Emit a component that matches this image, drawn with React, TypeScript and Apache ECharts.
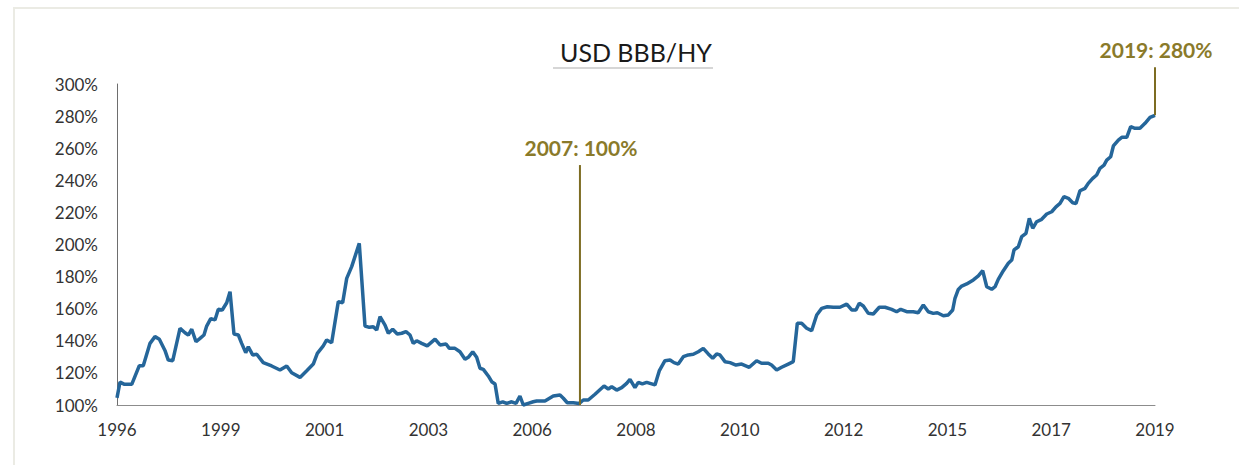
import React, { useEffect, useRef } from "react";
import * as echarts from "echarts";

// x-axis tick labels (one per axis step)
const xTickLabels = ["1996", "1999", "2001", "2003", "2006", "2008", "2010", "2012", "2015", "2017", "2019"];

// time position of each observation, in axis-label steps (0 = 1996 label, 10 = 2019 label)
const t = [
  0, 0.029, 0.067, 0.142, 0.215, 0.253, 0.318, 0.366, 0.408, 0.462,
  0.494, 0.537, 0.607, 0.655, 0.687, 0.72, 0.761, 0.8, 0.838, 0.864,
  0.903, 0.944, 0.976, 1.014, 1.057, 1.089, 1.127, 1.169, 1.201, 1.24,
  1.265, 1.307, 1.346, 1.409, 1.49, 1.57, 1.635, 1.683, 1.763, 1.828,
  1.891, 1.93, 1.987, 2.02, 2.068, 2.132, 2.174, 2.213, 2.261, 2.334,
  2.389, 2.431, 2.469, 2.502, 2.534, 2.582, 2.614, 2.656, 2.7, 2.743,
  2.784, 2.823, 2.854, 2.887, 2.935, 2.989, 3.064, 3.112, 3.17, 3.202,
  3.256, 3.304, 3.353, 3.384, 3.427, 3.465, 3.497, 3.529, 3.577, 3.61,
  3.642, 3.673, 3.716, 3.754, 3.802, 3.844, 3.882, 3.914, 3.962, 4.01,
  4.043, 4.123, 4.203, 4.268, 4.3, 4.338, 4.396, 4.454, 4.492, 4.54,
  4.605, 4.692, 4.733, 4.766, 4.814, 4.862, 4.91, 4.942, 4.99, 5.022,
  5.061, 5.103, 5.183, 5.224, 5.279, 5.328, 5.366, 5.407, 5.456, 5.504,
  5.552, 5.6, 5.648, 5.696, 5.739, 5.777, 5.809, 5.857, 5.906, 5.963,
  6.018,
  6.091, 6.162, 6.21, 6.274, 6.306, 6.355, 6.403, 6.467, 6.515, 6.554,
  6.596, 6.644, 6.692, 6.741, 6.789, 6.843, 6.901, 6.965, 7.03, 7.078,
  7.119, 7.151, 7.19, 7.238, 7.286, 7.344, 7.399, 7.463, 7.511, 7.55,
  7.608, 7.671, 7.719, 7.768, 7.816, 7.864, 7.903, 7.961, 8.009, 8.051,
  8.073, 8.105, 8.138, 8.186, 8.25, 8.298, 8.34, 8.379, 8.427, 8.459,
  8.49, 8.539, 8.587, 8.62, 8.642, 8.683, 8.716, 8.757, 8.789, 8.822,
  8.86, 8.908, 8.957, 9.005, 9.046, 9.085, 9.123, 9.165, 9.207, 9.239,
  9.277, 9.326, 9.357, 9.4, 9.438, 9.47, 9.509, 9.535, 9.573, 9.599,
  9.647, 9.68, 9.728, 9.766, 9.807, 9.855, 9.904, 9.952, 10.0,
];

// USD BBB / HY ratio, percent
const ratio = [
  104.4, 114.3, 113, 112.9, 124.5, 124.5, 138.4, 142.6, 141, 134,
  128, 127.6, 147.8, 145, 143.6, 147.2, 139.4, 141.5, 143.6, 149.2,
  153.8, 153, 159.6, 159.2, 163.7, 170.6, 144.2, 143.6, 138.4, 132.6,
  136.3, 131.2, 131.6, 126.4, 124.3, 121.8, 124.3, 120.1, 117.2, 121.4,
  125.5, 132.2, 136.8, 140.5, 138.8, 164.4, 163.7, 178.9, 186.2, 200.7,
  149.2, 148.4, 148.8, 146.7, 155, 149.8, 144.7, 147.2, 144.2, 144.7,
  145.7, 143.6, 138.4, 140, 138.4, 136.8, 141, 137.4, 138, 135.3,
  135.3, 133.2, 128.5, 129.7, 133.2, 129.7, 122.9, 122.2, 118.1, 114.5,
  113.1, 101, 102, 101, 102, 101, 105.6, 100, 101, 102,
  102.5, 102.5, 105.6, 106.2, 104.2, 101.4, 101.4, 101, 103.1, 103.1,
  106.7, 111.8, 110, 111.4, 109.3, 110.8, 113.5, 116, 110.8, 114.1,
  113.1, 114.1, 112.5, 121.2, 127.6, 128, 126.4, 125.5, 130.1, 131.2,
  131.6, 133.2, 135.3, 131.8, 129.1, 131.8, 131.2, 127, 126.4, 124.9,
  125.5,
  123.5, 127.6, 126, 126, 124.9, 121.8, 123.5, 125.5, 127, 150.9,
  150.9, 147.8, 146.3, 156.1, 160.2, 161.2, 160.9, 160.9, 162.9, 159.2,
  159.2, 163.4, 161.7, 157.1, 156.7, 160.9, 160.9, 159.6, 158.1, 159.6,
  158.1, 158.1, 157.5, 162.3, 158.1, 157.1, 157.5, 155.6, 156.1, 159.2,
  166.5, 172, 174.1, 175.4, 177.9, 180.4, 183.7, 173.7, 172.1, 173.7,
  178.3, 183.7, 188.3, 190.3, 196.6, 198.6, 204.9, 207, 216.3, 210.1,
  214.2, 215.7, 219, 220.4, 223.5, 225.6, 229.8, 228.8, 226, 225.6,
  233.5, 235, 238.1, 241.2, 243.3, 247.5, 249.5, 252.6, 254.7, 261.4,
  265.1, 266.8, 266.8, 273.4, 272.4, 272.4, 275.5, 279.2, 280.5,
];

// annotations: label, time position, line from value to value (percent)
const annoLabels = ["2007: 100%", "2019: 280%"];
const annoT = [4.46, 10];
const annoFrom = [100, 280.5];
const annoTo = [249.5, 310.5];

const FONT = "Lato, 'Open Sans', 'Noto Sans', sans-serif";

export default function App() {
  const ref = useRef<HTMLDivElement>(null);

  useEffect(() => {
    if (!ref.current) return;
    const chart = echarts.init(ref.current, null, { renderer: "svg" });
    chart.setOption({
      animation: false,
      backgroundColor: "#ffffff",
      title: {
        text: "USD BBB/HY",
        left: 555,
        top: 34,
        textStyle: { fontFamily: FONT, fontSize: 25, fontWeight: "normal", color: "#1a1a1a" },
      },
      grid: { left: 117, right: 84, top: 84, bottom: 60 },
      xAxis: {
        type: "value",
        min: 0,
        max: 10,
        interval: 1,
        axisLine: { show: true, lineStyle: { color: "#8c8c8c", width: 1 } },
        axisTick: { show: false },
        splitLine: { show: false },
        axisLabel: {
          formatter: (v: number) => xTickLabels[Math.round(v)] ?? "",
          fontFamily: FONT,
          fontSize: 17,
          color: "#333333",
          margin: 16,
        },
      },
      yAxis: {
        type: "value",
        min: 100,
        max: 300,
        interval: 20,
        axisLine: { show: true, lineStyle: { color: "#6e6e6e", width: 1 } },
        axisTick: { show: false },
        splitLine: { show: false },
        axisLabel: {
          formatter: "{value}%",
          fontFamily: FONT,
          fontSize: 17,
          color: "#333333",
          margin: 19,
        },
      },
      series: [
        {
          type: "line",
          data: t.map((x, i) => [x, ratio[i]]),
          symbol: "none",
          showSymbol: false,
          clip: false,
          lineStyle: { color: "#25669a", width: 3.5 },
          z: 3,
        },
      ],
    });

    const gfx: any[] = [
      {
        type: "rect",
        shape: { x: 14, y: 8, width: 1240, height: 470 },
        style: { fill: "none", stroke: "#ebebe4", lineWidth: 2 },
        silent: true,
        z: 0,
      },
      {
        type: "line",
        shape: { x1: 553, y1: 68, x2: 713, y2: 68 },
        style: { stroke: "#d6d6d6", lineWidth: 2 },
        silent: true,
      },
    ];
    annoLabels.forEach((label, i) => {
      const p0 = chart.convertToPixel({ gridIndex: 0 }, [annoT[i], annoFrom[i]]) as number[];
      const p1 = chart.convertToPixel({ gridIndex: 0 }, [annoT[i], annoTo[i]]) as number[];
      gfx.push({
        type: "line",
        shape: { x1: p0[0], y1: p0[1], x2: p1[0], y2: p1[1] },
        style: { stroke: "#7d6c22", lineWidth: 2 },
        z: 10,
        silent: true,
      });
      gfx.push({
        type: "text",
        x: p1[0] + 1,
        y: p1[1] - 18,
        style: {
          text: label,
          font: `bold 21px ${FONT}`,
          fill: "#8a7a2a",
          textAlign: "center",
          textVerticalAlign: "middle",
          align: "center",
          verticalAlign: "middle",
        },
        z: 10,
        silent: true,
      });
    });
    chart.setOption({ graphic: gfx });

    return () => {
      chart.dispose();
    };
  }, []);

  return (
    <div
      ref={ref}
      style={{ position: "fixed", left: 0, top: 0, width: 1239, height: 465, background: "#ffffff" }}
    />
  );
}
